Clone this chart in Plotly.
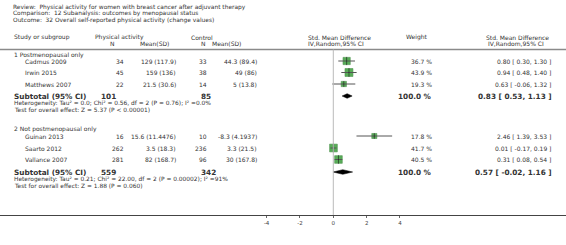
import plotly.graph_objects as go

# ---------------- data ----------------
review = "Physical activity for women with breast cancer after adjuvant therapy"
comparison = "12 Subanalysis: outcomes by menopausal status"
outcome = "32 Overall self-reported physical activity (change values)"

group_labels = ["1 Postmenopausal only", "2 Not postmenopausal only"]

g1_studies = ["Cadmus 2009", "Irwin 2015", "Matthews 2007"]
g1_pa_n = [34, 45, 22]
g1_pa_mean = [129, 159, 21.5]
g1_pa_sd = [117.9, 136, 30.6]
g1_ct_n = [33, 38, 14]
g1_ct_mean = [44.3, 49, 5]
g1_ct_sd = [89.4, 86, 13.8]
g1_weight = [36.7, 43.9, 19.3]
g1_smd = [0.80, 0.94, 0.63]
g1_lo = [0.30, 0.48, -0.06]
g1_hi = [1.30, 1.40, 1.32]

g2_studies = ["Guinan 2013", "Saarto 2012", "Vallance 2007"]
g2_pa_n = [16, 262, 281]
g2_pa_mean = [15.6, 3.5, 82]
g2_pa_sd = [11.4476, 18.3, 168.7]
g2_ct_n = [10, 236, 96]
g2_ct_mean = [-8.3, 3.3, 30]
g2_ct_sd = [4.1937, 21.5, 167.8]
g2_weight = [17.8, 41.7, 40.5]
g2_smd = [2.46, 0.01, 0.31]
g2_lo = [1.39, -0.17, 0.08]
g2_hi = [3.53, 0.19, 0.54]

sub_pa_n = [101, 559]
sub_ct_n = [85, 342]
sub_weight = [100.0, 100.0]
sub_smd = [0.83, 0.57]
sub_lo = [0.53, -0.02]
sub_hi = [1.13, 1.16]
heterogeneity = [
    "Heterogeneity: Tau² = 0.0; Chi² = 0.56, df = 2 (P = 0.76); I² =0.0%",
    "Heterogeneity: Tau² = 0.21; Chi² = 22.00, df = 2 (P = 0.00002); I² =91%",
]
overall_test = [
    "Test for overall effect: Z = 5.37 (P &lt; 0.00001)",
    "Test for overall effect: Z = 1.88 (P = 0.060)",
]

tick_vals = [-4, -2, 0, 2, 4]
tick_text = ["-4", "-2", "0", "2", "4"]
null_effect = 0
favours_left = "Favours control"
favours_right = "Favours physical activity"

# ---------------- layout constants ----------------
W, H = 566, 245
ZERO_PX = 333.3
PX_PER_UNIT = 16.67
AXIS_Y = 215
FONT = "DejaVu Sans"
TXT = "#333333"
FS = 6.0
FS_SMALL = 5.9
FS_BOLD = 7.3

study_rows = [[61, 72.5, 84], [136, 148, 159.5]]
group_row = [55, 128.5]
sub_row = [96, 172]
het_row = [103, 179]
test_row = [110, 185.5]

fig = go.Figure()
ann = []


def txt(s, xpx, y, anchor="left", size=FS, bold=False, color=TXT):
    ann.append(dict(
        text=("<b>%s</b>" % s) if bold else s,
        x=xpx / W, xref="paper", y=y, yref="y",
        xanchor=anchor, yanchor="middle", showarrow=False, borderpad=0,
        font=dict(family=FONT, size=size, color=color),
    ))


def fmt(v):
    return "%g" % v


# titles
txt("Review:  " + review, 12, 7, size=FS_SMALL)
txt("Comparison:  " + comparison, 12, 13.5, size=FS_SMALL)
txt("Outcome:  " + outcome, 12, 20, size=FS_SMALL)

# headers
HY1, HY2 = 37.3, 43.3
txt("Study or subgroup", 13, HY1)
txt("Physical activity", 94, HY1)
txt("N", 112, HY2, "center")
txt("Mean(SD)", 170, HY2, "right")
txt("Control", 190, HY1)
txt("N", 203.5, HY2, "center")
txt("Mean(SD)", 242, HY2, "right")
txt("Std. Mean Difference", 307, HY1)
txt("IV,Random,95% CI", 307, HY2)
txt("Weight", 405, HY1)
txt("Std. Mean Difference", 485, HY1)
txt("IV,Random,95% CI", 487, HY2)

groups = [
    (g1_studies, g1_pa_n, g1_pa_mean, g1_pa_sd, g1_ct_n, g1_ct_mean, g1_ct_sd, g1_weight, g1_smd, g1_lo, g1_hi),
    (g2_studies, g2_pa_n, g2_pa_mean, g2_pa_sd, g2_ct_n, g2_ct_mean, g2_ct_sd, g2_weight, g2_smd, g2_lo, g2_hi),
]

all_x, all_y, all_w, all_lo, all_hi = [], [], [], [], []
for gi, (st, pn, pm, ps, cn, cm, cs, wt, smd, lo, hi) in enumerate(groups):
    txt(group_labels[gi], 13, group_row[gi])
    for i, name in enumerate(st):
        y = study_rows[gi][i]
        txt(name, 24, y)
        txt(str(pn[i]), 125, y, "right")
        txt("%s (%s)" % (fmt(pm[i]), fmt(ps[i])), 177, y, "right")
        txt(str(cn[i]), 207.5, y, "right")
        txt("%s (%s)" % (fmt(cm[i]), fmt(cs[i])), 258, y, "right")
        txt("%.1f %%" % wt[i], 433, y, "right")
        txt("%.2f [ %.2f, %.2f ]" % (smd[i], lo[i], hi[i]), 552, y, "right")
        all_x.append(smd[i]); all_y.append(y); all_w.append(wt[i])
        all_lo.append(lo[i]); all_hi.append(hi[i])
    ys = sub_row[gi]
    txt("Subtotal (95% CI)", 13, ys, size=FS_BOLD, bold=True)
    txt(str(sub_pa_n[gi]), 99.5, ys, size=FS_BOLD, bold=True)
    txt(str(sub_ct_n[gi]), 200, ys, size=FS_BOLD, bold=True)
    txt("%.1f %%" % sub_weight[gi], 433, ys, "right", size=FS_BOLD, bold=True)
    txt("%.2f [ %.2f, %.2f ]" % (sub_smd[gi], sub_lo[gi], sub_hi[gi]), 553, ys, "right",
        size=FS_BOLD, bold=True)
    txt(heterogeneity[gi], 13, het_row[gi], size=FS_SMALL)
    txt(overall_test[gi], 13, test_row[gi], size=FS_SMALL)

# favours labels (right aligned to +/-4 ticks)
txt(favours_left, ZERO_PX + tick_vals[0] * PX_PER_UNIT, 228.5, "right", size=FS_SMALL)
txt(favours_right, ZERO_PX + tick_vals[-1] * PX_PER_UNIT, 228.5, "right", size=FS_SMALL)

# study boxes
sizes = [1.2 * (w ** 0.5) for w in all_w]
fig.add_trace(go.Scatter(
    x=all_x, y=all_y, mode="markers",
    marker=dict(symbol="square", size=sizes, color="#128a12",
                line=dict(color="#0a6a0a", width=0.6)),
    hoverinfo="skip", showlegend=False,
))
# CI lines on top
fig.add_trace(go.Scatter(
    x=all_x, y=all_y, mode="markers",
    marker=dict(size=1, opacity=0),
    error_x=dict(type="data", symmetric=False,
                 array=[h - x for h, x in zip(all_hi, all_x)],
                 arrayminus=[x - l for x, l in zip(all_x, all_lo)],
                 color="#555555", thickness=1, width=0),
    hoverinfo="skip", showlegend=False,
))
# point estimate ticks
fig.add_trace(go.Scatter(
    x=all_x, y=all_y, mode="markers",
    marker=dict(symbol="line-ns", size=[s * 0.8 for s in sizes],
                line=dict(color="#111111", width=0.8)),
    hoverinfo="skip", showlegend=False,
))

# diamonds
DH = 2.3
for gi in range(2):
    ys = sub_row[gi]
    fig.add_trace(go.Scatter(
        x=[sub_lo[gi], sub_smd[gi], sub_hi[gi], sub_smd[gi], sub_lo[gi]],
        y=[ys, ys - DH, ys, ys + DH, ys],
        mode="lines", fill="toself", fillcolor="#000000",
        line=dict(color="#000000", width=0.5),
        hoverinfo="skip", showlegend=False,
    ))

shapes = [
    # header rule
    dict(type="line", xref="paper", yref="y", x0=0, x1=1, y0=49.5, y1=49.5,
         line=dict(color="#8a8a8a", width=1.6)),
    # line of no effect
    dict(type="line", xref="x", yref="y", x0=null_effect, x1=null_effect, y0=49.5, y1=AXIS_Y,
         line=dict(color="#bbbbbb", width=1)),
]

x_left = -ZERO_PX / PX_PER_UNIT
x_right = (W - ZERO_PX) / PX_PER_UNIT

fig.update_layout(
    width=W, height=H,
    margin=dict(l=0, r=0, t=0, b=0),
    paper_bgcolor="white", plot_bgcolor="white",
    annotations=ann, shapes=shapes,
    xaxis=dict(range=[x_left, x_right], domain=[0, 1], showgrid=False, zeroline=False,
               showline=True, linecolor="#444444", linewidth=1.4,
               tickmode="array", tickvals=tick_vals, ticktext=tick_text,
               ticks="outside", ticklen=2, tickwidth=0.8, tickcolor="#666666",
               tickfont=dict(family=FONT, size=5.5, color="#444444"), fixedrange=True),
    yaxis=dict(range=[AXIS_Y, 0], domain=[(H - AXIS_Y) / H, 1], visible=False,
               showgrid=False, zeroline=False, fixedrange=True),
    showlegend=False,
)

fig.write_html("out.html", config={"displayModeBar": False},
               post_script="document.body.style.margin='0';document.body.style.overflow='hidden';")
